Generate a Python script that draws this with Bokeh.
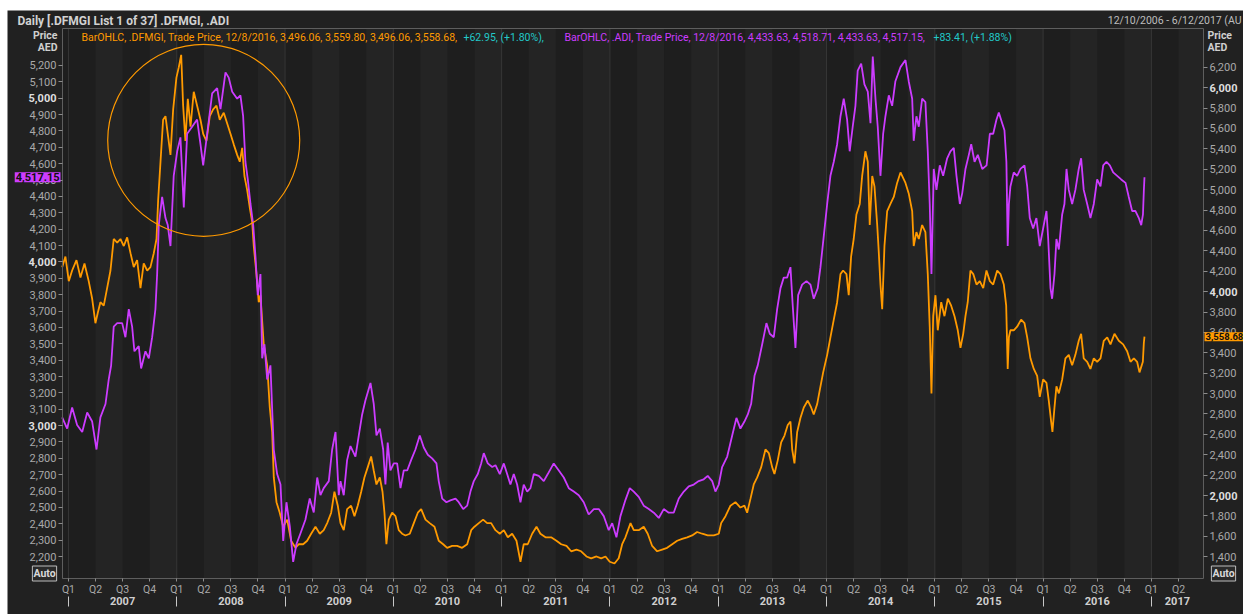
from bokeh.plotting import figure
from bokeh.models import (Range1d, LinearAxis, FixedTicker, NumeralTickFormatter, Label, Spacer)
from bokeh.layouts import column, row
from bokeh.embed import file_html
from bokeh.resources import INLINE

# ---------------- data (fractional year, index level) ----------------
adi_t = [2006.942, 2006.988, 2007.034, 2007.080, 2007.127, 2007.173, 2007.219, 2007.259, 2007.295, 2007.342,
         2007.372, 2007.394, 2007.418, 2007.450, 2007.496, 2007.526, 2007.557, 2007.588, 2007.609, 2007.649,
         2007.671, 2007.711, 2007.742, 2007.773, 2007.803, 2007.819, 2007.834, 2007.865, 2007.896, 2007.917,
         2007.942, 2007.972, 2008.004, 2008.034, 2008.065, 2008.096, 2008.142, 2008.188, 2008.219, 2008.244,
         2008.281, 2008.327, 2008.373, 2008.404, 2008.450, 2008.480, 2008.512, 2008.558, 2008.588, 2008.613,
         2008.634, 2008.656, 2008.681, 2008.706, 2008.727, 2008.748, 2008.773, 2008.789, 2008.810, 2008.835,
         2008.865, 2008.896, 2008.927, 2008.958, 2008.983, 2009.013, 2009.044, 2009.075, 2009.105, 2009.142,
         2009.188, 2009.228, 2009.265, 2009.297, 2009.327, 2009.357, 2009.404, 2009.435, 2009.466, 2009.496,
         2009.512, 2009.542, 2009.573, 2009.604, 2009.650, 2009.681, 2009.712, 2009.742, 2009.789, 2009.819,
         2009.844, 2009.875, 2009.906, 2009.927, 2009.948, 2009.973, 2010.004, 2010.035, 2010.066, 2010.096,
         2010.128, 2010.164, 2010.204, 2010.244, 2010.281, 2010.318, 2010.358, 2010.398, 2010.419, 2010.451,
         2010.490, 2010.527, 2010.574, 2010.604, 2010.645, 2010.682, 2010.712, 2010.743, 2010.780, 2010.811,
         2010.835, 2010.872, 2010.913, 2010.943, 2010.983, 2011.020, 2011.051, 2011.081, 2011.112, 2011.143,
         2011.174, 2011.204, 2011.236, 2011.266, 2011.297, 2011.343, 2011.389, 2011.426, 2011.481, 2011.528,
         2011.574, 2011.620, 2011.666, 2011.712, 2011.758, 2011.804, 2011.851, 2011.897, 2011.943, 2011.989,
         2012.021, 2012.060, 2012.097, 2012.143, 2012.183,
         2012.220, 2012.266, 2012.312, 2012.359, 2012.405, 2012.451, 2012.497, 2012.543, 2012.589, 2012.636,
         2012.682, 2012.728, 2012.774, 2012.820, 2012.866, 2012.903, 2012.944, 2012.974, 2013.005, 2013.036,
         2013.083, 2013.129, 2013.168, 2013.205, 2013.242, 2013.273, 2013.304, 2013.335, 2013.365, 2013.406,
         2013.445, 2013.476, 2013.513, 2013.544, 2013.575, 2013.605, 2013.636, 2013.667, 2013.688, 2013.713,
         2013.738, 2013.775, 2013.815, 2013.852, 2013.882, 2013.919, 2013.944, 2013.975, 2014.006, 2014.036,
         2014.067, 2014.098, 2014.129, 2014.159, 2014.190, 2014.214, 2014.242, 2014.267, 2014.288, 2014.320,
         2014.350, 2014.381, 2014.406, 2014.427, 2014.452, 2014.473, 2014.498, 2014.523, 2014.544, 2014.575,
         2014.606, 2014.636, 2014.683,
         2014.729, 2014.759, 2014.791, 2014.805, 2014.830, 2014.852, 2014.883, 2014.913, 2014.935, 2014.953,
         2014.969, 2014.990, 2015.015, 2015.046, 2015.077, 2015.114, 2015.144, 2015.175, 2015.200, 2015.231,
         2015.253, 2015.283, 2015.314, 2015.336, 2015.367, 2015.397, 2015.438, 2015.478, 2015.508, 2015.539,
         2015.569, 2015.591, 2015.622, 2015.643, 2015.661, 2015.673, 2015.684, 2015.698, 2015.729, 2015.760,
         2015.791, 2015.828, 2015.853, 2015.877, 2015.908, 2015.938, 2015.969, 2016.000, 2016.031, 2016.047,
         2016.068, 2016.083, 2016.105, 2016.123, 2016.145, 2016.176, 2016.197, 2016.216, 2016.237, 2016.268,
         2016.298, 2016.329, 2016.351, 2016.375, 2016.407, 2016.437, 2016.468, 2016.499, 2016.530, 2016.555,
         2016.585, 2016.616, 2016.647, 2016.684, 2016.721, 2016.761, 2016.791, 2016.822, 2016.853, 2016.884,
         2016.906, 2016.922, 2016.930, 2016.936]
adi_v = [3050, 2982, 3111, 3004, 2961, 3080, 3025, 2854, 3050, 3132,
         3282, 3367, 3605, 3626, 3626, 3540, 3711, 3605, 3454, 3486,
         3349, 3454, 3411, 3540, 3711, 3926, 4225, 4397, 4268, 4225,
         4097, 4526, 4676, 4761, 4332, 4783, 4826, 4870, 4719, 4590,
         4783, 5029, 5062, 4933, 5158, 5126, 5040, 4997, 5018, 4890,
         4612, 4504, 4354, 4225, 4033, 3797, 3926, 3411, 3497, 3282,
         3368, 2854, 2704, 2640, 2296, 2532, 2384, 2168, 2275, 2341,
         2425, 2555, 2469, 2683, 2575, 2618, 2661, 2854, 2961, 2575,
         2661, 2575, 2789, 2875, 2811, 2940, 3068, 3153, 3261, 3133,
         2940, 2982, 2854, 2640, 2897, 2726, 2769, 2769, 2618, 2726,
         2726, 2789, 2854, 2940, 2866, 2822, 2800, 2769, 2661, 2554,
         2532, 2543, 2554, 2532, 2490, 2511, 2597, 2661, 2704, 2769,
         2832, 2769, 2747, 2758, 2704, 2769, 2704, 2640, 2704, 2640,
         2532, 2640, 2597, 2618, 2704, 2693, 2661, 2704, 2769, 2726,
         2683, 2618, 2597, 2575, 2532, 2457, 2490, 2490, 2447, 2361,
         2404, 2318, 2447, 2545, 2618,
         2597, 2565, 2511, 2490, 2468, 2436, 2490, 2468, 2468, 2555,
         2597, 2629, 2640, 2661, 2672, 2693, 2661, 2597, 2640, 2747,
         2811, 2940, 3047, 2982, 3025, 3068, 3133, 3304, 3368, 3497,
         3626, 3561, 3540, 3711, 3840, 3904, 3904, 3968, 3732, 3475,
         3797, 3861, 3883, 3861, 3775, 3840, 3968, 4161, 4354, 4526,
         4612, 4719, 4890, 4997, 4869, 4676, 4826, 4954, 5169, 5212,
         5084, 5040, 4847, 5255, 4997, 4826, 4526, 4783, 4890, 5018,
         4954, 5104, 5190,
         5233, 5104, 4997, 4740, 4890, 4826, 4997, 4976, 4676, 4354,
         3926, 4568, 4440, 4590, 4526, 4633, 4676, 4697, 4526, 4354,
         4419, 4568, 4654, 4719, 4612, 4654, 4568, 4590, 4783, 4783,
         4869, 4912, 4847, 4804, 4612, 4097, 4354, 4461, 4547, 4526,
         4568, 4590, 4461, 4268, 4204, 4268, 4097, 4204, 4311, 4140,
         3840, 3775, 3926, 4140, 4076, 4290, 4354, 4568, 4440, 4354,
         4440, 4568, 4633, 4440, 4354, 4268, 4354, 4504, 4461, 4590,
         4612, 4590, 4547, 4526, 4504, 4483, 4397, 4311, 4311, 4268,
         4225, 4290, 4433, 4517]

dfm_t = [2006.942, 2006.972, 2007.003, 2007.034, 2007.074, 2007.111, 2007.148, 2007.187, 2007.219, 2007.249,
         2007.271, 2007.295, 2007.326, 2007.357, 2007.388, 2007.418, 2007.450, 2007.480, 2007.511, 2007.542,
         2007.573, 2007.603, 2007.634, 2007.665, 2007.695, 2007.727, 2007.757, 2007.788, 2007.813, 2007.828,
         2007.850, 2007.874, 2007.896, 2007.917, 2007.942, 2007.967, 2007.997, 2008.019, 2008.041, 2008.059,
         2008.080, 2008.102, 2008.127, 2008.157, 2008.188, 2008.219, 2008.244, 2008.274, 2008.305, 2008.336,
         2008.367, 2008.397, 2008.434, 2008.465, 2008.496, 2008.526, 2008.558, 2008.582, 2008.604, 2008.625,
         2008.650, 2008.674, 2008.696, 2008.711, 2008.736, 2008.757, 2008.773, 2008.803, 2008.835, 2008.859,
         2008.881, 2008.896, 2008.921, 2008.951, 2008.983, 2009.020, 2009.056, 2009.096, 2009.127, 2009.167,
         2009.204, 2009.241, 2009.281, 2009.321, 2009.357, 2009.389, 2009.426, 2009.456, 2009.487, 2009.512,
         2009.542, 2009.573, 2009.610, 2009.641, 2009.671, 2009.703, 2009.733, 2009.764, 2009.795, 2009.819,
         2009.844, 2009.875, 2009.900, 2009.918, 2009.936, 2009.958, 2009.989, 2010.020, 2010.050, 2010.081,
         2010.112, 2010.152, 2010.189, 2010.226, 2010.257, 2010.297, 2010.336, 2010.380, 2010.419, 2010.460,
         2010.497, 2010.543, 2010.589, 2010.635, 2010.682, 2010.719, 2010.749, 2010.789, 2010.829, 2010.866,
         2010.903, 2010.943, 2010.983, 2011.020, 2011.057, 2011.097, 2011.137, 2011.174, 2011.204, 2011.241,
         2011.282, 2011.322, 2011.358, 2011.405, 2011.457, 2011.506, 2011.550, 2011.599, 2011.642, 2011.691,
         2011.734, 2011.783, 2011.827, 2011.876, 2011.919, 2011.959, 2011.998, 2012.042, 2012.081, 2012.113,
         2012.143, 2012.190, 2012.220, 2012.266, 2012.312, 2012.349, 2012.390, 2012.436, 2012.482, 2012.528,
         2012.575, 2012.621, 2012.667, 2012.713, 2012.759, 2012.805, 2012.852, 2012.903, 2012.959, 2013.005,
         2013.027, 2013.067, 2013.113, 2013.159, 2013.205, 2013.242, 2013.267, 2013.298, 2013.328, 2013.360,
         2013.397, 2013.436, 2013.467, 2013.498, 2013.519, 2013.550, 2013.581, 2013.612, 2013.642, 2013.667,
         2013.683, 2013.704, 2013.729, 2013.759, 2013.790, 2013.827, 2013.858, 2013.882, 2013.914, 2013.938,
         2013.969, 2014.006, 2014.036, 2014.067, 2014.098, 2014.129, 2014.153, 2014.184, 2014.205, 2014.227,
         2014.251, 2014.276, 2014.307, 2014.329, 2014.359, 2014.381, 2014.399, 2014.422, 2014.443, 2014.468,
         2014.483, 2014.498, 2014.514, 2014.535, 2014.560, 2014.590, 2014.621, 2014.652, 2014.683, 2014.729,
         2014.759, 2014.791, 2014.805, 2014.830, 2014.852, 2014.883, 2014.913, 2014.935, 2014.953, 2014.969,
         2014.985, 2015.006, 2015.027, 2015.059, 2015.089, 2015.120, 2015.151, 2015.182, 2015.212, 2015.237,
         2015.262, 2015.283, 2015.304, 2015.329, 2015.355, 2015.385, 2015.415, 2015.447, 2015.477, 2015.508,
         2015.539, 2015.576, 2015.606, 2015.637, 2015.659, 2015.673, 2015.684, 2015.698, 2015.729, 2015.760,
         2015.797, 2015.828, 2015.853, 2015.883, 2015.914, 2015.945, 2015.969, 2016.000, 2016.031, 2016.052,
         2016.074, 2016.086, 2016.105, 2016.123, 2016.145, 2016.176, 2016.206, 2016.237, 2016.268, 2016.298,
         2016.329, 2016.351, 2016.375, 2016.407, 2016.437, 2016.468, 2016.499, 2016.530, 2016.560, 2016.592,
         2016.622, 2016.659, 2016.699, 2016.739, 2016.776, 2016.807, 2016.838, 2016.868, 2016.890, 2016.921,
         2016.930, 2016.936]
dfm_v = [4240, 4344, 4103, 4207, 4309, 4138, 4276, 4103, 3930, 3690,
         3793, 3896, 3862, 4034, 4207, 4516, 4481, 4516, 4447, 4532,
         4377, 4240, 4309, 4034, 4276, 4207, 4240, 4377, 4516, 4894,
         5273, 5685, 5720, 5547, 5341, 5788, 6098, 6201, 6322, 5823,
         5478, 5891, 5617, 5960, 5823, 5685, 5547, 5478, 5720, 5788,
         5823, 5685, 5754, 5651, 5547, 5444, 5341, 5273, 5410, 5134,
         4997, 4825, 4687, 4447, 4172, 3896, 3965, 3483, 3278, 2864,
         2624, 2178, 1935, 1832, 1695, 1764, 1557, 1488, 1523, 1523,
         1557, 1626, 1695, 1626, 1661, 1730, 1832, 2038, 1901, 1730,
         1661, 1867, 1901, 1798, 1901, 2038, 2178, 2279, 2383, 2246,
         2109, 2178, 2038, 1832, 1523, 1764, 1832, 1798, 1661, 1626,
         1609, 1626, 1730, 1832, 1867, 1764, 1730, 1695, 1557, 1523,
         1488, 1506, 1506, 1488, 1523, 1661, 1695, 1730, 1764, 1730,
         1730, 1661, 1626, 1661, 1591, 1626, 1557, 1351, 1523, 1523,
         1626, 1695, 1626, 1591, 1591, 1557, 1523, 1506, 1454, 1471,
         1454, 1403, 1385, 1403, 1385, 1403, 1351, 1334, 1385, 1523,
         1591, 1730, 1661, 1661, 1695, 1626, 1506, 1454, 1471, 1488,
         1523, 1557, 1575, 1591, 1609, 1643, 1626, 1609, 1609, 1626,
         1730, 1798, 1901, 1936, 1883, 1901, 1832, 1970, 2109, 2178,
         2279, 2452, 2417, 2279, 2211, 2348, 2521, 2589, 2692, 2727,
         2452, 2315, 2624, 2761, 2864, 2932, 2864, 2795, 2899, 3036,
         3208, 3380, 3552, 3725, 3896, 4172, 4207, 4172, 3965, 4344,
         4516, 4756, 4860, 5134, 5376, 5273, 4653, 5134, 5031, 4653,
         4377, 4069, 3828, 4447, 4790, 4860, 4928, 5066, 5169, 5066,
         4963, 4790, 4447, 4584, 4516, 4653, 4584, 4172, 3656, 3002,
         3759, 3965, 3621, 3896, 3759, 3930, 3862, 3759, 3621, 3449,
         3586, 3759, 3896, 4207, 4172, 4069, 4103, 4034, 4207, 4103,
         4069, 4207, 4172, 4069, 3862, 3242, 3552, 3621, 3621, 3656,
         3725, 3690, 3552, 3346, 3242, 3174, 2968, 3139, 3105, 2933,
         2727, 2624, 2864, 3071, 3002, 3139, 3346, 3380, 3278, 3380,
         3518, 3586, 3346, 3312, 3242, 3346, 3312, 3346, 3518, 3552,
         3483, 3586, 3518, 3483, 3415, 3312, 3346, 3312, 3208, 3312,
         3496, 3559]

left_ticks = list(range(2200, 5201, 100))
right_ticks = list(range(1400, 6201, 200))
left_bold = [3000, 4000, 5000]
right_bold = [2000, 4000, 6000]
years = list(range(2007, 2018))
quarter_ticks = [y + q * 0.25 for y in years for q in range(4) if y + q * 0.25 <= 2017.25]
quarter_names = ["Q1", "Q2", "Q3", "Q4"]
year_label_pos = [y + 0.5 for y in range(2007, 2017)] + [2017.24]
year_label_txt = [str(y) for y in range(2007, 2018)]

legend_dfm = "BarOHLC, .DFMGI, Trade Price,  12/8/2016, 3,496.06, 3,559.80, 3,496.06, 3,558.68,"
legend_dfm_chg = "+62.95, (+1.80%),"
legend_adi = "BarOHLC, .ADI, Trade Price,  12/8/2016, 4,433.63, 4,518.71, 4,433.63, 4,517.15,"
legend_adi_chg = "+83.41, (+1.88%)"
last_adi = 4517.15
last_dfm = 3558.68
circle_x, circle_y = 2008.249, 4743

# ---------------- geometry / styling ----------------
ORANGE = "#ff9a00"
MAGENTA = "#cc3cff"
CYAN = "#22c8c8"
BG = "#212121"
PLOT_A = "#1e1e1e"
PLOT_B = "#242424"
TICK_TXT = "#a9a9a9"
FONT = "Roboto"

W, H = 1236, 604                       # figure size (px)
IN_L, IN_R, IN_T, IN_B = 55, 1196, 18, 568   # inner chart box (px inside figure)
X0, X1 = 2006.945, 2017.481            # visible time span
L0, L1 = 2066, 5426                    # left scale span (ADI)
R0, R1 = 1187, 6580                    # right scale span (DFMGI)

kx = (X1 - X0) / (IN_R - IN_L)
kl = (L1 - L0) / (IN_B - IN_T)
kr = (R1 - R0) / (IN_B - IN_T)
x_range = Range1d(X0 - IN_L * kx, X1 + (W - IN_R) * kx)
y_range = Range1d(L0 - (H - IN_B) * kl, L1 + IN_T * kl)
r_range = Range1d(R0 - (H - IN_B) * kr, R1 + IN_T * kr)

p = figure(width=W, height=H, output_backend="svg", toolbar_location=None,
           x_range=x_range, y_range=y_range, x_axis_type=None, y_axis_type=None, min_border=0)
p.extra_y_ranges = {"dfm": r_range}
p.background_fill_color = BG
p.border_fill_color = BG
p.outline_line_color = None

# inner chart area: quarter bands, year lines
p.quad(left=[X0], right=[X1], bottom=[L0], top=[L1], fill_color=PLOT_A, line_color=None)
alt = [q for i, q in enumerate(quarter_ticks) if i % 2 == 1]
p.quad(left=alt, right=[min(q + 0.25, X1) for q in alt], bottom=L0, top=L1,
       fill_color=PLOT_B, line_color=None)
p.segment(x0=years, y0=L0, x1=years, y1=L1, line_color="#363636", line_width=1)


def style_axis(ax):
    ax.axis_line_color = None
    ax.major_tick_line_color = "#8c8c8c"
    ax.major_tick_in = 0
    ax.major_tick_out = 4
    ax.minor_tick_line_color = None
    ax.minor_tick_in = 0
    ax.minor_tick_out = 0
    ax.major_label_text_color = TICK_TXT
    ax.major_label_text_font = FONT
    ax.major_label_text_font_size = "11px"
    ax.major_label_standoff = 2


ax_l = LinearAxis(fixed_location=X0, ticker=FixedTicker(ticks=left_ticks),
                  formatter=NumeralTickFormatter(format="0,0"))
style_axis(ax_l)
ax_l.major_label_overrides = {t: "" for t in left_bold}
p.add_layout(ax_l, "left")

ax_lb = LinearAxis(fixed_location=X0, ticker=FixedTicker(ticks=left_bold),
                   formatter=NumeralTickFormatter(format="0,0"))
style_axis(ax_lb)
ax_lb.major_label_text_font_style = "bold"
ax_lb.major_label_text_color = "#dedede"
p.add_layout(ax_lb, "left")

ax_r = LinearAxis(y_range_name="dfm", fixed_location=X1, ticker=FixedTicker(ticks=right_ticks),
                  formatter=NumeralTickFormatter(format="0,0"))
style_axis(ax_r)
ax_r.major_label_overrides = {t: "" for t in right_bold}
p.add_layout(ax_r, "right")

ax_rb = LinearAxis(y_range_name="dfm", fixed_location=X1, ticker=FixedTicker(ticks=right_bold),
                   formatter=NumeralTickFormatter(format="0,0"))
style_axis(ax_rb)
ax_rb.major_label_text_font_style = "bold"
ax_rb.major_label_text_color = "#dedede"
p.add_layout(ax_rb, "right")

# quarter axis
ax_q = LinearAxis(fixed_location=L0, ticker=FixedTicker(ticks=quarter_ticks))
style_axis(ax_q)
ax_q.major_tick_out = 3
ax_q.major_label_standoff = 1
ax_q.major_label_text_font_size = "10.5px"
ax_q.major_label_overrides = {t: quarter_names[i % 4] for i, t in enumerate(quarter_ticks)}
p.add_layout(ax_q, "below")

# year separators
ax_sep = LinearAxis(fixed_location=L0 - 18 * kl, ticker=FixedTicker(ticks=[float(y) for y in years]))
style_axis(ax_sep)
ax_sep.major_tick_line_color = "#c8c8c8"
ax_sep.major_tick_out = 10
ax_sep.major_label_overrides = {float(y): "" for y in years}
p.add_layout(ax_sep, "below")

# year labels
ax_y = LinearAxis(fixed_location=L0 - 18 * kl, ticker=FixedTicker(ticks=year_label_pos))
style_axis(ax_y)
ax_y.major_tick_line_color = None
ax_y.major_tick_out = 0
ax_y.major_label_standoff = 0
ax_y.major_label_text_color = "#cfcfcf"
ax_y.major_label_text_font_style = "bold"
ax_y.major_label_overrides = {t: s for t, s in zip(year_label_pos, year_label_txt)}
p.add_layout(ax_y, "below")

# series
p.line(dfm_t, dfm_v, y_range_name="dfm", line_color=ORANGE, line_width=1.8)
p.line(adi_t, adi_v, line_color=MAGENTA, line_width=1.8)

# highlight circle
p.ellipse(x=[circle_x], y=[circle_y], width=192, height=192, width_units="screen", height_units="screen",
          fill_color=None, line_color=ORANGE, line_width=1.2)

# inner chart border
p.quad(left=[X0], right=[X1], bottom=[L0], top=[L1], fill_color=None, line_color="#5e5e5e", line_width=1)


def lab(text, x, y, xo, yo, color, align="left", bold=False, size="11px", rng="default", font=FONT, **kw):
    l = Label(x=x, y=y, x_offset=xo, y_offset=yo, text=text, text_color=color, text_align=align,
              text_baseline="middle", text_font=font, text_font_size=size,
              text_font_style="bold" if bold else "normal", y_range_name=rng, **kw)
    p.add_layout(l)
    return l


# header
lab("Daily [.DFMGI List 1 of 37] .DFMGI, .ADI", X0, L1, -45, 8, "#d2d2d2", bold=True, size="12px")
lab("12/10/2006 - 6/12/2017 (AU", X1, L1, 38, 8, "#bdbdbd", align="right", size="10.5px")
# price / aed
lab("Price", X0, L1, -5, -7, "#cfcfcf", align="right", bold=True, size="10.5px")
lab("AED", X0, L1, -5, -19, "#cfcfcf", align="right", bold=True, size="10.5px")
lab("Price", X1, L1, 4, -7, "#cfcfcf", bold=True, size="10.5px")
lab("AED", X1, L1, 4, -19, "#cfcfcf", bold=True, size="10.5px")
# legend row
lab(legend_dfm, X0, L1, 19, -9, ORANGE, size="10.5px")
lab(legend_dfm_chg, X0, L1, 401, -9, CYAN, size="10.5px")
lab(legend_adi, X0, L1, 502, -9, MAGENTA, size="10.5px")
lab(legend_adi_chg, X0, L1, 871, -9, CYAN, size="10.5px")
# last value tags
lab(f"{last_adi:,.2f}", X0, last_adi, -2, 0, "#111111", align="right", bold=True,
    background_fill_color=MAGENTA, padding=1)
lab(f"{last_dfm:,.2f}", X1, last_dfm, 1, 0, "#111111", align="left", bold=True, size="9.5px", rng="dfm",
    background_fill_color=ORANGE, padding=1)
# auto boxes
lab("Auto", X0, L0, -18, 5, "#d8d8d8", align="center", bold=True, size="10.5px",
    background_fill_color="#2a2a2a", border_line_color="#bdbdbd", padding=1)
lab("Auto", X1, L0, 20, 5, "#d8d8d8", align="center", bold=True, size="10.5px",
    background_fill_color="#2a2a2a", border_line_color="#bdbdbd", padding=1)

layout = column(Spacer(height=10), row(Spacer(width=7), p))
open("out.html", "w").write(file_html(layout, INLINE))
